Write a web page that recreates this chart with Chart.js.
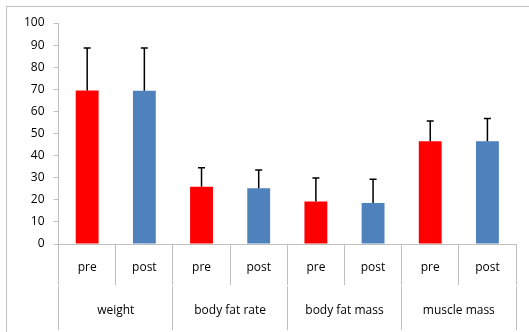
<!DOCTYPE html>
<html>
<head>
<meta charset="utf-8">
<script src="https://cdn.jsdelivr.net/npm/chart.js@4/dist/chart.umd.min.js"></script>
<style>
  html, body { margin: 0; padding: 0; background: #fff; }
  #wrap { position: relative; width: 529px; height: 332px; overflow: hidden; }
  #frame { position: absolute; left: 6px; top: 6px; width: 600px; height: 400px;
           border-top: 1px solid #c0c0c0; border-left: 1px solid #c0c0c0; }
  canvas { position: absolute; left: 0; top: 0; }
</style>
</head>
<body>
<div id="wrap">
  <div id="frame"></div>
  <canvas id="chart" width="529" height="332"></canvas>
</div>
<script>
// measures and phases
var groups = ['weight', 'body fat rate', 'body fat mass', 'muscle mass'];
var phases = ['pre', 'post'];
var preMean = [69.5, 25.9, 19.2, 46.5];
var postMean = [69.4, 25.2, 18.6, 46.5];
var preSD = [19.2, 8.6, 10.7, 9.2];
var postSD = [19.3, 8.3, 10.7, 10.3];
var phaseColors = ['#ff0000', '#4f81bd'];
var yTicks = [0, 10, 20, 30, 40, 50, 60, 70, 80, 90, 100];

// flatten into pre/post pairs
var labels = [], values = [], errors = [], colors = [];
groups.forEach(function (g, i) {
    labels.push(phases[0], phases[1]);
    values.push(preMean[i], postMean[i]);
    errors.push(preSD[i], postSD[i]);
    colors.push(phaseColors[0], phaseColors[1]);
});

var gridGray = '#bfbfbf';
var font = { family: 'Open Sans', size: 12 };

// upper error bars with caps
var errorBars = {
    id: 'errorBars',
    afterDatasetsDraw: function (chart) {
        var ctx = chart.ctx;
        var y = chart.scales.y;
        var meta = chart.getDatasetMeta(0);
        ctx.save();
        ctx.strokeStyle = '#000';
        ctx.lineWidth = 1.5;
        meta.data.forEach(function (bar, i) {
            var top = y.getPixelForValue(values[i] + errors[i]);
            ctx.beginPath();
            ctx.moveTo(bar.x, bar.y);
            ctx.lineTo(bar.x, top);
            ctx.moveTo(bar.x - 3.5, top);
            ctx.lineTo(bar.x + 3.5, top);
            ctx.stroke();
        });
        ctx.restore();
    }
};

new Chart(document.getElementById('chart'), {
    type: 'bar',
    data: {
        labels: labels,
        datasets: [{
            data: values,
            backgroundColor: colors,
            barPercentage: 0.4,
            categoryPercentage: 1
        }]
    },
    options: {
        responsive: false,
        animation: false,
        layout: { padding: { top: 23, left: 15, right: 13, bottom: 0 } },
        plugins: { legend: { display: false }, tooltip: { enabled: false } },
        scales: {
            x: {
                offset: true,
                grid: { offset: true, drawOnChartArea: false, tickLength: 41, color: gridGray },
                border: { color: gridGray },
                ticks: { font: font, color: '#000', padding: -25, maxRotation: 0, autoSkip: false },
                afterFit: function (s) { s.height = 42; }
            },
            x2: {
                type: 'category',
                labels: groups,
                position: 'bottom',
                offset: true,
                grid: { offset: true, drawOnChartArea: false, tickLength: 44, color: gridGray },
                border: { display: false },
                ticks: { font: font, color: '#000', padding: -27, maxRotation: 0, autoSkip: false },
                afterFit: function (s) { s.height = 46; }
            },
            y: {
                min: 0,
                max: 100,
                afterBuildTicks: function (axis) {
                    axis.ticks = yTicks.map(function (v) { return { value: v }; });
                },
                grid: { drawOnChartArea: false, tickLength: 5, color: gridGray },
                border: { color: gridGray },
                ticks: { font: font, color: '#000', padding: 9 }
            }
        }
    },
    plugins: [errorBars]
});
</script>
</body>
</html>
